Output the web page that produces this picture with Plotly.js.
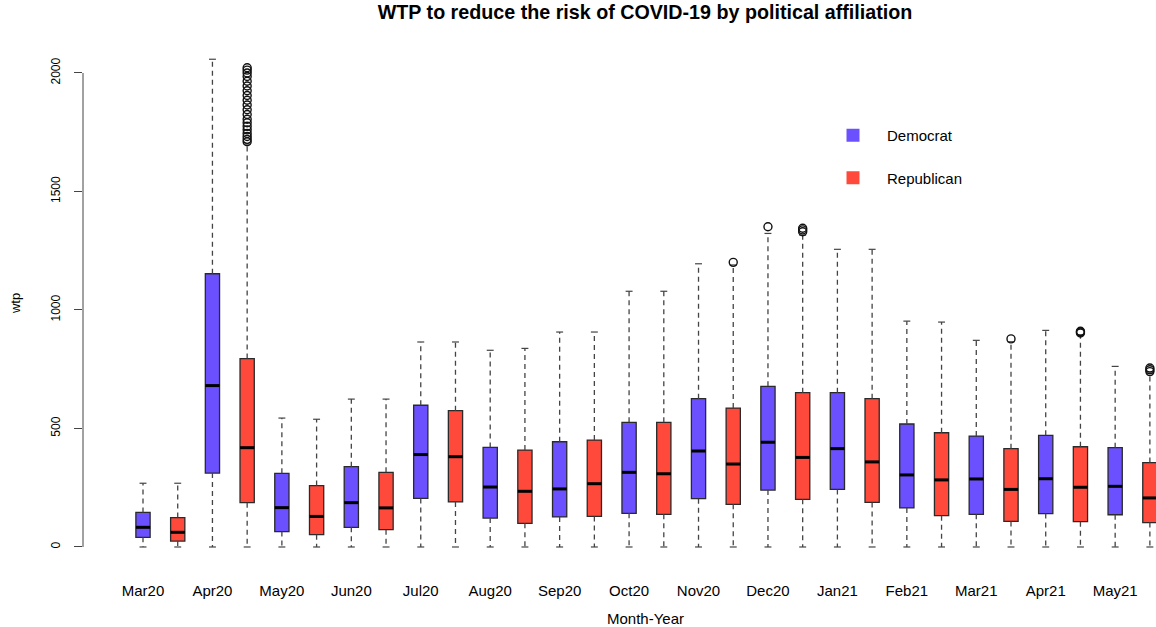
<!DOCTYPE html>
<html>
<head>
<meta charset="utf-8">
<script src="https://cdn.plot.ly/plotly-3.0.1.min.js"></script>
<style>html,body{margin:0;padding:0;background:#fff;}#chart{width:1156px;height:627px;}</style>
</head>
<body>
<div id="chart"></div>
<script>
// ---- data ----
const months = ['Mar20','Apr20','May20','Jun20','Jul20','Aug20','Sep20','Oct20','Nov20','Dec20','Jan21','Feb21','Mar21','Apr21','May21'];

const demLow = [0,0,0,0,0,0,0,0,0,0,0,0,0,0,0];
const demQ1  = [41, 312, 65, 83, 205, 122, 127, 142, 204, 240, 243, 165, 138, 141, 136];
const demMed = [83, 681, 166, 187, 390, 253, 245, 315, 405, 442, 415, 304, 287, 288, 256];
const demQ3  = [146, 1153, 311, 339, 598, 420, 444, 526, 626, 678, 651, 519, 468, 471, 419];
const demHigh= [269, 2058, 544, 624, 865, 830, 907, 1079, 1195, 1323, 1256, 953, 872, 914, 762];
const demOut = [[],[],[],[],[],[],[],[],[],[1351],[],[],[],[],[]];

const repLow = [0,0,0,0,0,0,0,0,0,0,0,0,0,0,0];
const repQ1  = [25, 187, 52, 73, 190, 100, 129, 138, 180, 201, 188, 132, 108, 107, 103];
const repMed = [62, 419, 129, 165, 381, 235, 267, 309, 350, 378, 359, 283, 243, 252, 207];
const repQ3  = [124, 795, 259, 315, 575, 409, 451, 526, 586, 651, 626, 482, 415, 423, 356];
const repHigh= [269, 1700, 539, 624, 865, 838, 907, 1079, 1190, 1316, 1256, 949, 866, 894, 733];
const repOut = [[],
  [1710,1720,1732,1745,1760,1775,1790,1805,1825,1845,1865,1885,1905,1925,1945,1965,1985,2000,2012,2022],
  [],[],[],[],[],[],[1201],[1330,1338,1345],[],[],[878],[903,907,910],[740,748,755]];

const yTicks = [0, 500, 1000, 1500, 2000];
const seriesNames = ['Democrat', 'Republican'];
const colors = ['#6B50FF', '#FF4A3B'];

// ---- build ----
const BOXW = 0.41, CAPW = 0.1;
const posD = months.map((m, i) => 2 * i + 1);
const posR = months.map((m, i) => 2 * i + 2);

function boxTrace(pos, q1, med, q3, color, name) {
  return {
    type: 'box', x: pos, q1: q1, median: med, q3: q3,
    lowerfence: q1, upperfence: q3,
    width: BOXW, whiskerwidth: 0,
    fillcolor: color, line: {color: '#2a2a2a', width: 1.3},
    name: name, showlegend: false, hoverinfo: 'skip', boxpoints: false
  };
}

const wx = [], wy = [], cx = [], cy = [], mx = [], my = [], ox = [], oy = [];
function addGroup(pos, lo, q1, med, q3, hi, outs) {
  pos.forEach((p, i) => {
    wx.push(p, p, null, p, p, null);
    wy.push(q3[i], hi[i], null, q1[i], lo[i], null);
    cx.push(p - CAPW, p + CAPW, null, p - CAPW, p + CAPW, null);
    cy.push(hi[i], hi[i], null, lo[i], lo[i], null);
    mx.push(p - BOXW / 2, p + BOXW / 2, null);
    my.push(med[i], med[i], null);
    outs[i].forEach(v => { ox.push(p); oy.push(v); });
  });
}
addGroup(posD, demLow, demQ1, demMed, demQ3, demHigh, demOut);
addGroup(posR, repLow, repQ1, repMed, repQ3, repHigh, repOut);

const traces = [
  boxTrace(posD, demQ1, demMed, demQ3, colors[0], seriesNames[0]),
  boxTrace(posR, repQ1, repMed, repQ3, colors[1], seriesNames[1]),
  {type: 'scatter', mode: 'lines', x: wx, y: wy, line: {color: '#444', width: 1.3, dash: '5px,4px'}, showlegend: false, hoverinfo: 'skip'},
  {type: 'scatter', mode: 'lines', x: cx, y: cy, line: {color: '#444', width: 1.2}, showlegend: false, hoverinfo: 'skip'},
  {type: 'scatter', mode: 'lines', x: mx, y: my, line: {color: '#000', width: 3}, showlegend: false, hoverinfo: 'skip'},
  {type: 'scatter', mode: 'markers', x: ox, y: oy, marker: {symbol: 'circle-open', size: 8, color: '#111', line: {width: 1.4, color: '#111'}}, showlegend: false, hoverinfo: 'skip'},
  {type: 'scatter', mode: 'markers', x: [null], y: [null], name: seriesNames[0], legendgroup: 'd', marker: {symbol: 'square', size: 13, color: colors[0]}},
  {type: 'scatter', mode: 'markers', x: [null], y: [null], name: seriesNames[1], legendgroup: 'r', marker: {symbol: 'square', size: 13, color: colors[1]}}
];

const FONT = 'Liberation Sans, Arial, Helvetica, sans-serif';
const PX = 34.72;           // pixels per box slot
const plotW = 1156 - 83;
const x0 = 1 - 60 / PX;

const layout = {
  width: 1156, height: 627,
  margin: {l: 83, r: 0, t: 40, b: 61, pad: 0},
  paper_bgcolor: '#fff', plot_bgcolor: '#fff',
  font: {family: FONT, color: '#000'},
  showlegend: true,
  title: {text: 'WTP to reduce the risk of COVID-19 by political affiliation', font: {family: FONT, size: 19.7, weight: 'bold', color: '#000'},
          xref: 'container', x: 645 / 1156, xanchor: 'center', yref: 'container', y: 1 - 12 / 627, yanchor: 'middle'},
  xaxis: {range: [x0, x0 + plotW / PX], showgrid: false, zeroline: false, showline: false, ticks: '',
          tickmode: 'array', tickvals: posD, ticktext: months, tickfont: {size: 15, family: FONT, color: '#000'},
          ticklabelstandoff: 14, fixedrange: true},
  yaxis: {range: [-80.2, 2139.2], showgrid: false, zeroline: false, showline: false,
          ticks: 'outside', ticklen: 8, tickcolor: '#444', tickwidth: 1,
          tickmode: 'array', tickvals: yTicks, ticktext: yTicks.map(String), tickangle: -90,
          tickfont: {size: 12, family: FONT, color: '#000'}, ticklabelstandoff: 9,
          title: {text: 'wtp', font: {size: 13, family: FONT, color: '#000'}, standoff: 25}, fixedrange: true},
  boxmode: 'overlay',
  shapes: [{type: 'line', xref: 'paper', x0: 0, x1: 0, yref: 'y', y0: yTicks[0], y1: yTicks[yTicks.length - 1], line: {color: '#444', width: 1}}],
  annotations: [{text: 'Month-Year', xref: 'paper', x: (645 - 83) / plotW, yref: 'paper', y: (566 - 618) / 526, yanchor: 'middle', xanchor: 'center',
                 showarrow: false, font: {size: 15, family: FONT, color: '#000'}}],
  legend: {x: (819 - 83) / plotW, xanchor: 'left', y: (566 - 119) / 526, yanchor: 'top', bgcolor: 'rgba(0,0,0,0)',
           font: {size: 15, family: FONT, color: '#000'}, itemwidth: 58, tracegroupgap: 20, traceorder: 'grouped'}
};

Plotly.newPlot('chart', traces, layout, {displayModeBar: false, staticPlot: true});
</script>
</body>
</html>
